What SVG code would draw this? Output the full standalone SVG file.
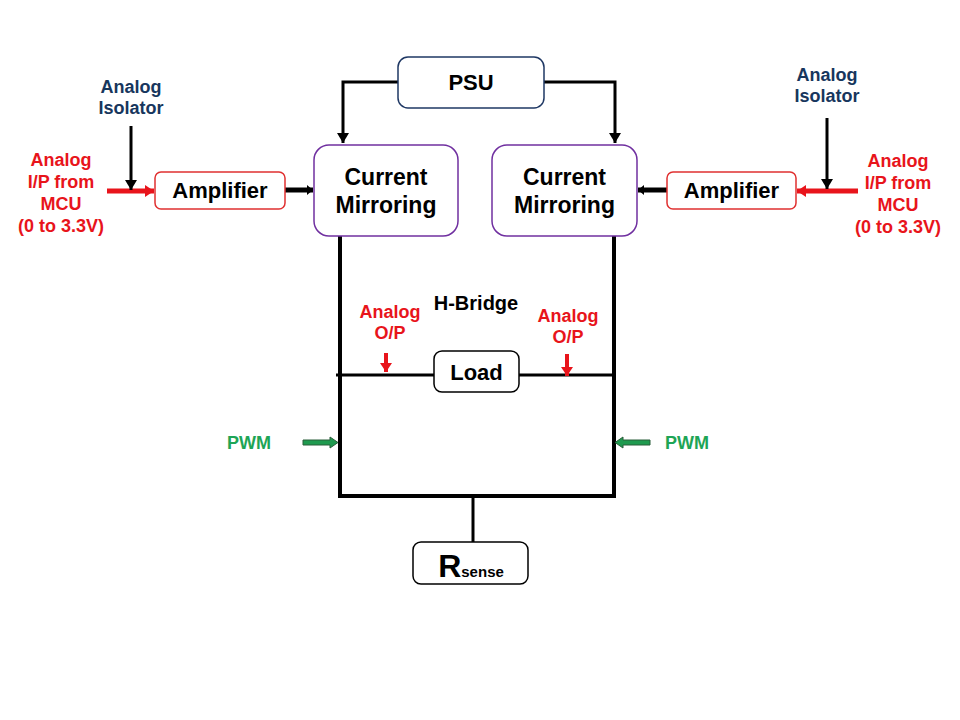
<svg xmlns="http://www.w3.org/2000/svg" width="960" height="720" viewBox="0 0 960 720">
<defs>
<style>
text{font-family:"Liberation Sans",Arial,sans-serif;font-weight:bold;text-anchor:middle}
.blk{fill:#000}
.red{fill:#e8141b}
.navy{fill:#17365d}
.grn{fill:#1ea556}
.box{fill:#fff;stroke-width:1.5}
.wire{stroke:#000;fill:none}
</style>
<marker id="hb" markerUnits="userSpaceOnUse" markerWidth="12" markerHeight="12" refX="10" refY="6" orient="auto"><path d="M0,0 L10,6 L0,12 z" fill="#000"/></marker>
<marker id="hbk" markerUnits="userSpaceOnUse" markerWidth="8" markerHeight="12" refX="6" refY="6" orient="auto"><path d="M0,1 L6,6 L0,11 z" fill="#000"/></marker>
<marker id="hr" markerUnits="userSpaceOnUse" markerWidth="10" markerHeight="14" refX="9" refY="7" orient="auto"><path d="M0,1 L9,7 L0,13 z" fill="#e8141b"/></marker>
</defs>
<rect width="960" height="720" fill="#fff"/>

<g id="connectors">
<path class="wire" stroke-width="3" d="M398,82 H343 V143" marker-end="url(#hb)"/>
<path class="wire" stroke-width="3" d="M544,82 H615 V143" marker-end="url(#hb)"/>
<line x1="107" y1="191" x2="154" y2="191" stroke="#e8141b" stroke-width="5" marker-end="url(#hr)"/>
<line x1="858" y1="191" x2="797" y2="191" stroke="#e8141b" stroke-width="5" marker-end="url(#hr)"/>
<line x1="131" y1="126" x2="131" y2="190" stroke="#000" stroke-width="3" marker-end="url(#hb)"/>
<line x1="827" y1="118" x2="827" y2="189" stroke="#000" stroke-width="3" marker-end="url(#hb)"/>
<line x1="285" y1="190" x2="313" y2="190" stroke="#000" stroke-width="5" marker-end="url(#hbk)"/>
<line x1="667" y1="190" x2="638" y2="190" stroke="#000" stroke-width="5" marker-end="url(#hbk)"/>
<path class="wire" stroke-width="4" d="M340,236 V496 H614 V236"/>
<line x1="336" y1="375" x2="434" y2="375" stroke="#000" stroke-width="3"/>
<line x1="519" y1="375" x2="616" y2="375" stroke="#000" stroke-width="3"/>
<line x1="473" y1="496" x2="473" y2="542" stroke="#000" stroke-width="3"/>
<line x1="386" y1="353" x2="386" y2="372" stroke="#e8141b" stroke-width="4" marker-end="url(#hr)"/>
<line x1="567" y1="354" x2="567" y2="376" stroke="#e8141b" stroke-width="4" marker-end="url(#hr)"/>
<polygon points="303,440 330,440 330,437 338,442.5 330,448 330,445 303,445" fill="#1f9a4f" stroke="#2a5e3a" stroke-width="1"/>
<polygon points="650,440 623,440 623,437 615,442.5 623,448 623,445 650,445" fill="#1f9a4f" stroke="#2a5e3a" stroke-width="1"/>
</g>

<g id="psu">
<rect class="box" x="398" y="57" width="146" height="51" rx="10" stroke="#1f3864"/>
<text x="471" y="90" font-size="22" class="blk">PSU</text>
</g>

<g id="cm-left">
<rect class="box" x="314" y="145" width="144" height="91" rx="15" stroke="#7030a0"/>
<text x="386" y="185" font-size="23" class="blk">Current</text>
<text x="386" y="213" font-size="23" class="blk">Mirroring</text>
</g>

<g id="cm-right">
<rect class="box" x="492" y="145" width="145" height="91" rx="15" stroke="#7030a0"/>
<text x="564.5" y="185" font-size="23" class="blk">Current</text>
<text x="564.5" y="213" font-size="23" class="blk">Mirroring</text>
</g>

<g id="amp-left">
<rect class="box" x="155" y="172" width="130" height="37" rx="6" stroke="#e03030"/>
<text x="220" y="198" font-size="22" class="blk">Amplifier</text>
</g>

<g id="amp-right">
<rect class="box" x="667" y="172" width="129" height="37" rx="6" stroke="#e03030"/>
<text x="731.5" y="198" font-size="22" class="blk">Amplifier</text>
</g>

<g id="iso-left">
<text x="131" y="93" font-size="18" class="navy">Analog</text>
<text x="131" y="114" font-size="18" class="navy">Isolator</text>
</g>

<g id="iso-right">
<text x="827" y="81" font-size="18" class="navy">Analog</text>
<text x="827" y="102" font-size="18" class="navy">Isolator</text>
</g>

<g id="in-left">
<text x="61" y="166" font-size="18" class="red">Analog</text>
<text x="61" y="188" font-size="18" class="red">I/P from</text>
<text x="61" y="210" font-size="18" class="red">MCU</text>
<text x="61" y="232" font-size="18" class="red">(0 to 3.3V)</text>
</g>

<g id="in-right">
<text x="898" y="167" font-size="18" class="red">Analog</text>
<text x="898" y="189" font-size="18" class="red">I/P from</text>
<text x="898" y="211" font-size="18" class="red">MCU</text>
<text x="898" y="233" font-size="18" class="red">(0 to 3.3V)</text>
</g>

<g id="hbridge">
<text x="476" y="310" font-size="20" class="blk">H-Bridge</text>
</g>

<g id="op-left">
<text x="390" y="318" font-size="18" class="red">Analog</text>
<text x="390" y="339" font-size="18" class="red">O/P</text>
</g>

<g id="op-right">
<text x="568" y="322" font-size="18" class="red">Analog</text>
<text x="568" y="343" font-size="18" class="red">O/P</text>
</g>

<g id="load">
<rect class="box" x="434" y="351" width="85" height="41" rx="8" stroke="#000"/>
<text x="476.5" y="380" font-size="22" class="blk">Load</text>
</g>

<g id="pwm-left">
<text x="249" y="449" font-size="18" class="grn">PWM</text>
</g>

<g id="pwm-right">
<text x="687" y="449" font-size="18" class="grn">PWM</text>
</g>

<g id="rsense">
<rect class="box" x="413" y="542" width="115" height="42" rx="8" stroke="#000"/>
<text x="471" y="577" class="blk" style="text-anchor:middle"><tspan font-size="32">R</tspan><tspan font-size="15">sense</tspan></text>
</g>
</svg>
